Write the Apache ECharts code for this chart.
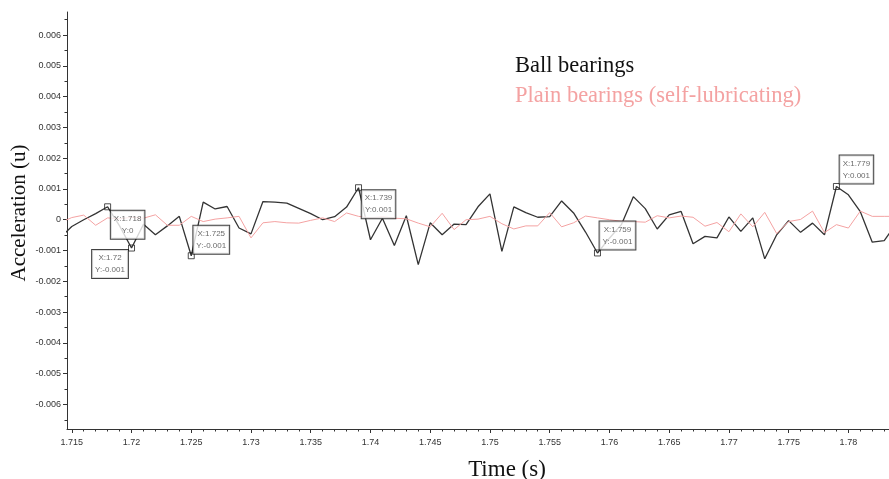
<!DOCTYPE html>
<html>
<head>
<meta charset="utf-8">
<script src="https://cdn.jsdelivr.net/npm/echarts@6/dist/echarts.min.js"></script>
<style>
  html, body { margin: 0; padding: 0; background: #fff; }
  #chart { width: 889px; height: 479px; }
</style>
</head>
<body>
<div id="chart"></div>
<script>
// Sample times (s), one reading per millisecond
const times = [
  1.714, 1.715, 1.716, 1.717, 1.718, 1.719, 1.720, 1.721, 1.722, 1.723,
  1.724, 1.725, 1.726, 1.727, 1.728, 1.729, 1.730, 1.731, 1.732, 1.733,
  1.734, 1.735, 1.736, 1.737, 1.738, 1.739, 1.740, 1.741, 1.742, 1.743,
  1.744, 1.745, 1.746, 1.747, 1.748, 1.749, 1.750, 1.751, 1.752, 1.753,
  1.754, 1.755, 1.756, 1.757, 1.758, 1.759, 1.760, 1.761, 1.762, 1.763,
  1.764, 1.765, 1.766, 1.767, 1.768, 1.769, 1.770, 1.771, 1.772, 1.773,
  1.774, 1.775, 1.776, 1.777, 1.778, 1.779, 1.780, 1.781, 1.782, 1.783,
  1.784
];

// Acceleration (u) of the ball bearings
const ballBearings = [
  -0.00060, -0.00022, 0.00000, 0.00020, 0.00042, -0.00020, -0.00092, -0.00015, -0.00049, -0.00020,
  0.00011, -0.00117, 0.00057, 0.00035, 0.00043, -0.00027, -0.00046, 0.00059, 0.00057, 0.00054,
  0.00037, 0.00020, 0.00000, 0.00010, 0.00041, 0.00104, -0.00065, 0.00005, -0.00084, 0.00013,
  -0.00146, -0.00010, -0.00049, -0.00014, -0.00016, 0.00042, 0.00084, -0.00103, 0.00042, 0.00023,
  0.00008, 0.00010, 0.00061, 0.00022, -0.00040, -0.00108, -0.00060, -0.00016, 0.00075, 0.00036,
  -0.00030, 0.00016, 0.00027, -0.00078, -0.00054, -0.00059, 0.00009, -0.00038, 0.00006, -0.00127,
  -0.00049, -0.00003, -0.00041, -0.00011, -0.00049, 0.00108, 0.00081, 0.00026, -0.00073, -0.00068,
  -0.00013
];

// Acceleration (u) of the self-lubricating plain bearings
const plainBearings = [
  -0.00010, 0.00007, 0.00015, -0.00018, 0.00006, 0.00003, 0.00008, 0.00005, 0.00016, -0.00018,
  -0.00018, 0.00011, -0.00006, 0.00002, 0.00006, 0.00011, -0.00059, -0.00010, -0.00006, -0.00010,
  -0.00011, -0.00002, 0.00006, -0.00006, 0.00022, 0.00011, 0.00006, 0.00010, 0.00005, 0.00003,
  -0.00011, -0.00023, 0.00021, -0.00032, 0.00000, 0.00002, 0.00011, -0.00013, -0.00030, -0.00020,
  -0.00020, 0.00023, -0.00023, -0.00010, 0.00012, 0.00006, 0.00000, -0.00005, -0.00006, -0.00008,
  0.00013, 0.00006, 0.00012, 0.00008, -0.00021, -0.00009, -0.00039, 0.00019, -0.00023, 0.00024,
  -0.00045, -0.00006, 0.00001, 0.00028, -0.00042, -0.00016, -0.00027, 0.00028, 0.00011, 0.00011,
  0.00011
];

// Tick labels of both axes
const xTickValues = [1.715, 1.72, 1.725, 1.73, 1.735, 1.74, 1.745, 1.75, 1.755, 1.76, 1.765, 1.77, 1.775, 1.78];
const yTickValues = [-0.006, -0.005, -0.004, -0.003, -0.002, -0.001, 0, 0.001, 0.002, 0.003, 0.004, 0.005, 0.006];

// Times carrying a data tip on the ball-bearing trace
const tipTimes = [1.718, 1.72, 1.725, 1.739, 1.759, 1.779];

// Where each tip box sits relative to its marker
const tipOffsets = {
  '1.718': [20, 4],
  '1.72': [-21.5, 2],
  '1.725': [20, -30],
  '1.739': [20, 2.5],
  '1.759': [20, -31.5],
  '1.779': [20, -31]
};

const SERIF = '"Liberation Serif", "DejaVu Serif", serif';
const SANS = '"Liberation Sans", Arial, sans-serif';
const PINK = '#f4a2a2';

const round3 = v => String(Math.round(v * 1000) / 1000);

// Minor tick positions: subdivide the major tick spacing
function subdivide(major, parts, lo, hi) {
  const step = (major[1] - major[0]) / parts;
  const out = [];
  for (let v = major[0] - step * parts; v <= hi + 1e-12; v += step) {
    const r = Math.round(v * 1e6) / 1e6;
    if (r >= lo && r <= hi) out.push(r);
  }
  return out;
}

const xMin = 1.7146, xMax = 1.7834;
const yMin = -0.0068, yMax = 0.00675;

const xMinor = subdivide(xTickValues, 5, xMin, xMax);
const yMinor = subdivide(yTickValues, 2, yMin, yMax);

const ballData = times.map((t, i) => [t, ballBearings[i]]);
const plainData = times.map((t, i) => [t, plainBearings[i]]);

const tipData = tipTimes.map(t => {
  const i = times.findIndex(x => Math.abs(x - t) < 1e-9);
  return {
    value: [times[i], ballBearings[i]],
    label: { offset: tipOffsets[round3(t)] }
  };
});

const axisLabelStyle = { fontSize: 9, color: '#333', fontFamily: SANS };

const chart = echarts.init(document.getElementById('chart'), null, { renderer: 'canvas' });

chart.setOption({
  animation: false,
  backgroundColor: '#fff',
  grid: { left: 67, right: 0, top: 12, bottom: 50, containLabel: false, outerBoundsMode: 'none' },
  legend: {
    orient: 'vertical',
    left: 505,
    top: 49,
    itemGap: 6,
    itemWidth: 0,
    itemHeight: 0,
    icon: 'rect',
    selectedMode: false,
    textStyle: { fontFamily: SERIF, fontSize: 22.5, lineHeight: 24 },
    data: [
      { name: 'Ball bearings', textStyle: { color: '#111' } },
      { name: 'Plain bearings (self-lubricating)', textStyle: { color: PINK } }
    ]
  },
  xAxis: [
    {
      type: 'value',
      min: xMin,
      max: xMax,
      name: 'Time (s)',
      nameLocation: 'middle',
      nameGap: 29,
      nameMoveOverlap: false,
      nameTextStyle: { fontFamily: SERIF, fontSize: 23, color: '#111', padding: [0, 0, 0, 58] },
      axisLine: { show: true, onZero: false, lineStyle: { color: '#333', width: 1 } },
      axisTick: { show: true, customValues: xTickValues, length: 4, lineStyle: { color: '#333' } },
      axisLabel: Object.assign({ customValues: xTickValues, margin: 9 }, axisLabelStyle),
      splitLine: { show: false }
    },
    {
      type: 'value',
      min: xMin,
      max: xMax,
      position: 'bottom',
      axisLine: { show: false, onZero: false },
      axisTick: { show: true, customValues: xMinor, length: 2.5, lineStyle: { color: '#333' } },
      axisLabel: { show: false },
      splitLine: { show: false }
    }
  ],
  yAxis: [
    {
      type: 'value',
      min: yMin,
      max: yMax,
      name: 'Acceleration (u)',
      nameLocation: 'middle',
      nameGap: 37,
      nameMoveOverlap: false,
      nameTextStyle: { fontFamily: SERIF, fontSize: 21, color: '#111', padding: [0, 0, 0, 15] },
      axisLine: { show: true, onZero: false, lineStyle: { color: '#333', width: 1 } },
      axisTick: { show: true, customValues: yTickValues, length: 4, lineStyle: { color: '#333' } },
      axisLabel: Object.assign({ customValues: yTickValues, margin: 6 }, axisLabelStyle),
      splitLine: { show: false }
    },
    {
      type: 'value',
      min: yMin,
      max: yMax,
      position: 'left',
      axisLine: { show: false, onZero: false },
      axisTick: { show: true, customValues: yMinor, length: 2.5, lineStyle: { color: '#333' } },
      axisLabel: { show: false },
      splitLine: { show: false }
    }
  ],
  series: [
    {
      name: 'Ball bearings',
      type: 'line',
      data: ballData,
      showSymbol: false,
      symbol: 'none',
      clip: true,
      lineStyle: { color: '#333', width: 1.3 },
      itemStyle: { color: '#111' },
      z: 2
    },
    {
      name: 'Plain bearings (self-lubricating)',
      type: 'line',
      data: plainData,
      showSymbol: false,
      symbol: 'none',
      clip: true,
      lineStyle: { color: PINK, width: 1 },
      itemStyle: { color: PINK },
      z: 3
    },
    {
      name: 'tips',
      type: 'scatter',
      data: tipData,
      symbol: 'rect',
      symbolSize: 6,
      itemStyle: { color: 'rgba(255,255,255,0)', borderColor: '#222', borderWidth: 1 },
      z: 5,
      label: {
        show: true,
        position: 'inside',
        align: 'center',
        verticalAlign: 'top',
        formatter: p => 'X:' + round3(p.value[0]) + '\nY:' + round3(p.value[1]),
        fontFamily: SANS,
        fontSize: 8,
        lineHeight: 12,
        color: '#444',
        backgroundColor: '#fff',
        borderColor: '#111',
        borderWidth: 1,
        padding: [2, 3, 2, 3]
      }
    }
  ]
});
</script>
</body>
</html>
